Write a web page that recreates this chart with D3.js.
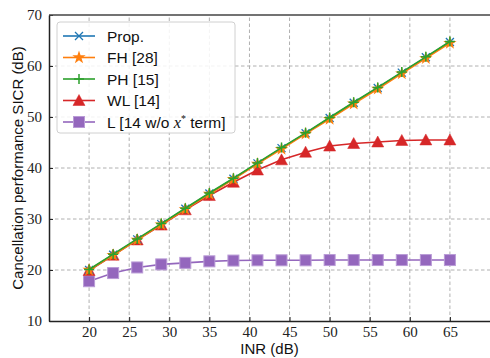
<!DOCTYPE html>
<html>
<head>
<meta charset="utf-8">
<script src="https://cdn.jsdelivr.net/npm/d3@7"></script>
<style>
  body { margin: 0; background: #fff; }
  svg { display: block; }
</style>
</head>
<body>
<svg id="chart" width="490" height="358"></svg>
<script>
const inr = [20, 23, 26, 29, 32, 35, 38, 41, 44, 47, 50, 53, 56, 59, 62, 65];
const prop = [20, 23, 26, 29, 32, 35, 37.9, 40.9, 43.9, 46.8, 49.8, 52.8, 55.7, 58.7, 61.7, 64.7];
const fh = [20, 22.9, 25.9, 28.9, 31.9, 34.9, 37.8, 40.8, 43.7, 46.7, 49.6, 52.6, 55.5, 58.5, 61.5, 64.5];
const ph = [20.1, 23.1, 26.1, 29.1, 32.1, 35.1, 38, 41, 44, 46.9, 49.9, 52.9, 55.8, 58.8, 61.8, 64.8];
const wl = [19.9, 22.9, 25.9, 28.8, 31.8, 34.6, 37.2, 39.6, 41.6, 43.1, 44.3, 44.8, 45.1, 45.4, 45.5, 45.5];
const lw = [17.8, 19.4, 20.5, 21.1, 21.4, 21.7, 21.85, 21.9, 21.9, 21.9, 21.95, 21.95, 21.95, 21.95, 21.95, 21.95];
const xTicks = [20, 25, 30, 35, 40, 45, 50, 55, 60, 65];
const yTicks = [10, 20, 30, 40, 50, 60, 70];

const series = [
  { name: 'Prop.', values: prop, color: '#1f77b4', marker: 'x' },
  { name: 'FH [28]', values: fh, color: '#ff7f0e', marker: 'star' },
  { name: 'PH [15]', values: ph, color: '#2ca02c', marker: 'plus' },
  { name: 'WL [14]', values: wl, color: '#d62728', marker: 'triangle' },
  { name: 'L [14 w/o ', values: lw, color: '#9467bd', marker: 'square' }
];

const margin = { left: 49, right: 0, top: 15, bottom: 37 };
const width = 490, height = 358;
const svg = d3.select('#chart');

const x = d3.scaleLinear().domain([15, 70]).range([margin.left, width - margin.right]);
const y = d3.scaleLinear().domain([10, 70]).range([height - margin.bottom, margin.top]);

const serif = '"Liberation Serif", "DejaVu Serif", serif';
const sans = '"Liberation Sans", Arial, sans-serif';

// grid
const grid = svg.append('g').attr('class', 'grid');
grid.selectAll('line.gx')
  .data(xTicks)
  .enter()
  .append('line')
  .attr('x1', d => x(d)).attr('x2', d => x(d))
  .attr('y1', y(10)).attr('y2', y(70))
  .attr('stroke', '#b0b0b0').attr('stroke-dasharray', '3.5,2.5').attr('stroke-width', 1);
grid.selectAll('line.gy')
  .data(yTicks.slice(1, -1))
  .enter()
  .append('line')
  .attr('x1', x(15)).attr('x2', x(70))
  .attr('y1', d => y(d)).attr('y2', d => y(d))
  .attr('stroke', '#b0b0b0').attr('stroke-dasharray', '3.5,2.5').attr('stroke-width', 1);

// axes
const xAxis = svg.append('g')
  .attr('transform', 'translate(0,' + y(10) + ')')
  .call(d3.axisBottom(x).tickValues(xTicks).tickSizeInner(-4).tickSizeOuter(0).tickPadding(6));
const yAxis = svg.append('g')
  .attr('transform', 'translate(' + x(15) + ',0)')
  .call(d3.axisLeft(y).tickValues(yTicks).tickSizeInner(-4).tickSizeOuter(0).tickPadding(7));

[xAxis, yAxis].forEach(a => {
  a.selectAll('.tick text').attr('font-family', serif).attr('font-size', 15).attr('fill', '#222');
  a.selectAll('.tick line').attr('stroke', '#222');
  a.select('path').attr('stroke', '#222').attr('stroke-width', 1.5);
});
xAxis.selectAll('.tick text').attr('dy', '0.68em');

svg.append('line')
  .attr('x1', x(15)).attr('x2', x(70))
  .attr('y1', y(70)).attr('y2', y(70))
  .attr('stroke', '#444').attr('stroke-width', 1.5);

// axis titles
svg.append('text')
  .text('INR (dB)')
  .attr('x', (x(15) + x(70)) / 2).attr('y', 354)
  .attr('text-anchor', 'middle')
  .attr('font-family', sans).attr('font-size', 15).attr('fill', '#111');
svg.append('text')
  .text('Cancellation performance SICR (dB)')
  .attr('transform', 'translate(23,' + ((y(10) + y(70)) / 2) + ') rotate(-90)')
  .attr('text-anchor', 'middle')
  .attr('font-family', sans).attr('font-size', 15).attr('fill', '#111');

function drawMarker(g, type, color) {
  if (type === 'x') {
    g.append('path').attr('d', 'M-4,-4L4,4M-4,4L4,-4').attr('stroke', color).attr('stroke-width', 1.3).attr('fill', 'none');
  } else if (type === 'star') {
    g.append('path').attr('d', d3.symbol(d3.symbolStar, 55)()).attr('fill', color);
  } else if (type === 'plus') {
    g.append('path').attr('d', 'M-5,0L5,0M0,-5L0,5').attr('stroke', color).attr('stroke-width', 1.5).attr('fill', 'none');
  } else if (type === 'triangle') {
    g.append('path').attr('d', 'M0,-6L6,5L-6,5Z').attr('fill', color).attr('stroke', color).attr('stroke-width', 0.5);
  } else if (type === 'square') {
    g.append('rect').attr('x', -5.5).attr('y', -5.5).attr('width', 11).attr('height', 11)
      .attr('fill', color).attr('stroke', '#b99bd6').attr('stroke-width', 1);
  }
}

const line = d3.line().x((d, i) => x(inr[i])).y(d => y(d));
const drawOrder = [4, 3, 0, 1, 2];
drawOrder.forEach(k => {
  const s = series[k];
  const g = svg.append('g').attr('class', 'series');
  g.append('path')
    .datum(s.values)
    .attr('d', line)
    .attr('fill', 'none')
    .attr('stroke', s.color)
    .attr('stroke-width', 1.6);
  s.values.forEach((v, i) => {
    const m = g.append('g').attr('transform', 'translate(' + x(inr[i]) + ',' + y(v) + ')');
    drawMarker(m, s.marker, s.color);
  });
});

// legend
const legend = svg.append('g').attr('class', 'legend');
legend.append('rect')
  .attr('x', 57).attr('y', 22).attr('width', 178).attr('height', 111)
  .attr('rx', 3)
  .attr('fill', 'rgba(255,255,255,0.85)')
  .attr('stroke', '#d0d0d0').attr('stroke-width', 1);

series.forEach((s, i) => {
  const ly = 36 + i * 21.5;
  legend.append('line')
    .attr('x1', 63).attr('x2', 95).attr('y1', ly).attr('y2', ly)
    .attr('stroke', s.color).attr('stroke-width', 1.6);
  drawMarker(legend.append('g').attr('transform', 'translate(79,' + ly + ')'), s.marker, s.color);
  const t = legend.append('text')
    .attr('x', 107).attr('y', ly + 5.5)
    .attr('font-family', sans).attr('font-size', 15.5).attr('fill', '#111')
    .text(s.name);
  if (i === 4) {
    t.append('tspan').attr('font-family', serif).attr('font-style', 'italic').attr('font-size', 16.5).text('x');
    t.append('tspan').attr('font-family', serif).attr('font-size', 10).attr('dy', -6).text('*');
    t.append('tspan').attr('dy', 6).text(' term]');
  }
});
</script>
</body>
</html>
